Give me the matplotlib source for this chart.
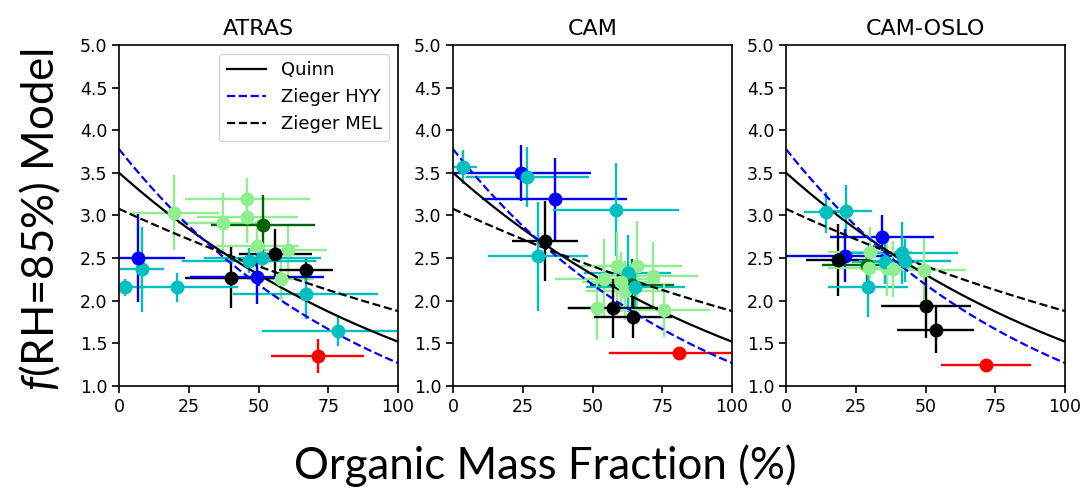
import matplotlib
matplotlib.use("Agg")
import matplotlib.pyplot as plt
import numpy as np

plt.rcParams['mathtext.fontset'] = 'custom'
plt.rcParams['mathtext.it'] = 'Lato:italic'
plt.rcParams['mathtext.rm'] = 'Lato'

# organic mass fraction (%), f(RH) and errors, per model
atras_x = [19.8, 46.0, 46.0, 37.3, 49.6, 60.7, 58.0, 51.6, 56.0, 40.3, 67.0,
           46.6, 51.4, 8.2, 2.2, 20.8, 67.0, 78.4, 6.7, 49.6, 71.2]
atras_y = [3.03, 3.19, 2.98, 2.91, 2.64, 2.59, 2.26, 2.89, 2.55, 2.27, 2.36,
           2.47, 2.50, 2.37, 2.16, 2.16, 2.08, 1.64, 2.50, 2.28, 1.35]
atras_xerr = [16, 22.5, 18, 16, 15, 14, 12, 18.6, 13, 16.5, 9.6,
              24, 21, 8, 3, 22, 26, 27, 17, 24, 16.7]
atras_yerr = [0.44, 0.25, 0.3, 0.35, 0.3, 0.3, 0.25, 0.35, 0.29, 0.36, 0.15,
              0.15, 0.12, 0.5, 0.1, 0.17, 0.29, 0.17, 0.52, 0.32, 0.2]
atras_col = ['lightgreen'] * 7 + ['darkgreen'] + ['k'] * 3 + ['c'] * 7 + ['b', 'b', 'r']

cam_x = [3.6, 24.3, 26.7, 36.5, 58.5, 33.0, 30.5, 58.8, 66.0, 71.8, 54.0,
         62.7, 64.2, 60.3, 61.5, 65.4, 51.7, 57.3, 64.5, 75.7, 81.0]
cam_y = [3.57, 3.50, 3.45, 3.19, 3.07, 2.70, 2.52, 2.41, 2.41, 2.29, 2.26,
         2.32, 2.19, 2.22, 2.12, 2.16, 1.91, 1.91, 1.81, 1.89, 1.39]
cam_xerr = [5, 25, 22, 26, 22.5, 11.7, 18, 14, 16, 16, 17.5,
            15.6, 15, 14, 14, 17.7, 11, 16, 14, 16.5, 25]
cam_yerr = [0.2, 0.33, 0.35, 0.48, 0.54, 0.47, 0.64, 0.4, 0.52, 0.4, 0.46,
            0.45, 0.3, 0.35, 0.35, 0.3, 0.37, 0.35, 0.25, 0.32, 0.03]
cam_col = ['c', 'b', 'c', 'b', 'c', 'k', 'c', 'lightgreen', 'lightgreen',
           'lightgreen', 'lightgreen', 'c', 'darkgreen', 'lightgreen',
           'lightgreen', 'c', 'lightgreen', 'k', 'k', 'lightgreen', 'r']

oslo_x = [14.3, 21.5, 34.5, 21.1, 18.8, 28.9, 30.1, 29.9, 29.3, 41.5, 36.1,
          35.5, 38.5, 42.7, 49.5, 50.2, 53.6, 71.7]
oslo_y = [3.04, 3.05, 2.75, 2.53, 2.48, 2.42, 2.57, 2.38, 2.16, 2.56, 2.38,
          2.45, 2.37, 2.47, 2.36, 1.94, 1.66, 1.25]
oslo_xerr = [8, 9.5, 18.6, 23, 11.5, 16, 15, 15, 14.3, 20, 13,
             12, 12, 16.5, 15, 16, 13.7, 16]
oslo_yerr = [0.24, 0.31, 0.26, 0.31, 0.42, 0.2, 0.3, 0.3, 0.35, 0.36, 0.33,
             0.25, 0.33, 0.25, 0.38, 0.38, 0.27, 0.02]
oslo_col = ['c', 'c', 'b', 'b', 'k', 'darkgreen', 'lightgreen', 'lightgreen',
            'c', 'c', 'lightgreen', 'c', 'lightgreen', 'c', 'lightgreen',
            'k', 'k', 'r']

# parameterisations: gamma = a - b*OMF, f = (60/15)**gamma
param_names = ['Quinn', 'Zieger HYY', 'Zieger MEL']
param_a = [0.904, 0.959, 0.811]
param_b = [0.602, 0.787, 0.356]
param_style = [('k', '-'), ('b', '--'), ('k', '--')]

titles = ['ATRAS', 'CAM', 'CAM-OSLO']
panels = [(atras_x, atras_y, atras_xerr, atras_yerr, atras_col),
          (cam_x, cam_y, cam_xerr, cam_yerr, cam_col),
          (oslo_x, oslo_y, oslo_xerr, oslo_yerr, oslo_col)]

W, H = 1089, 498
fig = plt.figure(figsize=(W / 100, H / 100), dpi=100)
lefts = [119, 453, 786]
omf = np.linspace(0, 100, 200)

for i, (x, y, xe, ye, col) in enumerate(panels):
    ax = fig.add_axes([lefts[i] / W, (H - 386) / H, 279 / W, 341 / H])
    for n in range(len(x)):
        ax.errorbar(x[n], y[n], xerr=xe[n], yerr=ye[n], fmt='o', color=col[n],
                    ms=9, elinewidth=1.7)
    for name, a, b, (c, ls) in zip(param_names, param_a, param_b, param_style):
        ax.plot(omf, 4 ** (a - b * omf / 100), color=c, ls=ls, lw=1.6, label=name)
    ax.set_xlim(0, 100)
    ax.set_ylim(1, 5)
    ax.set_xticks([0, 25, 50, 75, 100])
    ax.set_yticks(np.arange(1, 5.01, 0.5))
    ax.tick_params(labelsize=12.5, width=1.2, length=5)
    for s in ax.spines.values():
        s.set_linewidth(1.2)
    ax.set_title(titles[i], fontsize=16, pad=7)
    if i == 0:
        ax.legend(loc='upper right', fontsize=13, handlelength=2.2)

fig.text(40 / W, 1 - 220 / H, r'$f$(RH=85%) Model', rotation=90, ha='center',
         va='center', fontsize=31.5, family='Lato')
fig.text(545 / W, 1 - 466 / H, 'Organic Mass Fraction (%)', ha='center',
         va='center', fontsize=31.5, family='Lato')

fig.savefig('out.png', dpi=100)
